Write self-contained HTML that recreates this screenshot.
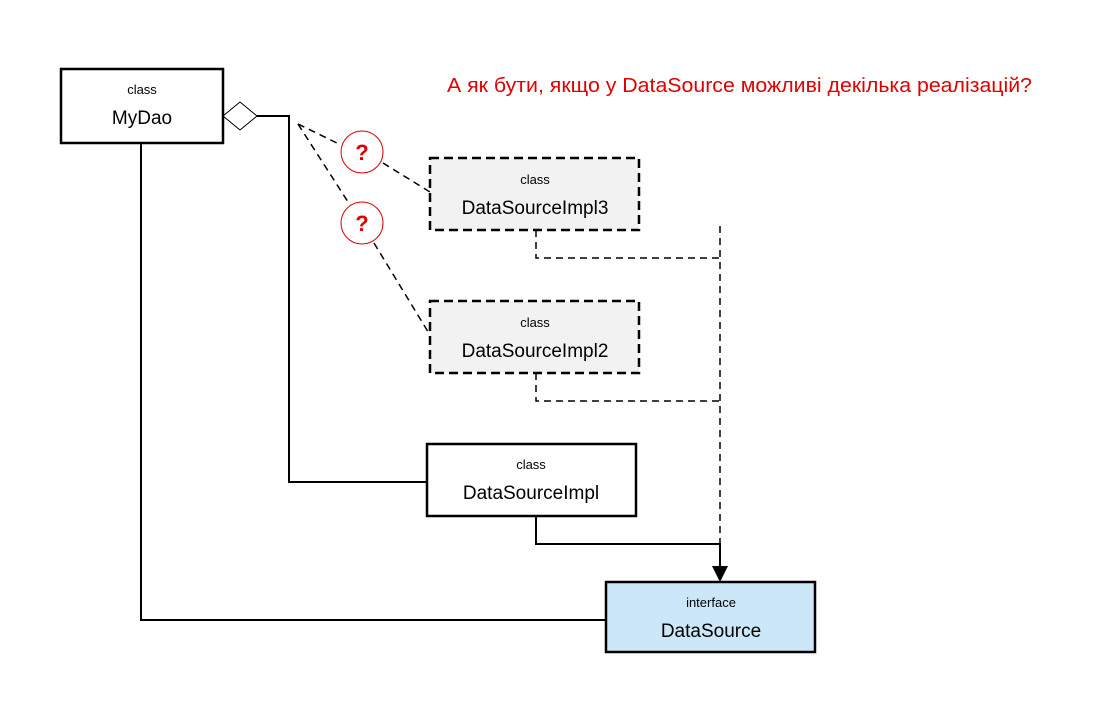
<!DOCTYPE html>
<html><head><meta charset="utf-8"><style>body{margin:0;background:#fff}svg{display:block}text{font-family:"Liberation Sans",sans-serif}</style></head><body>
<svg width="1100" height="720" viewBox="0 0 1100 720" xmlns="http://www.w3.org/2000/svg">
<rect width="1100" height="720" fill="#fff"/>
<text x="447" y="92" font-size="20" fill="#e00000" textLength="585" lengthAdjust="spacingAndGlyphs">А як бути, якщо у DataSource можливі декілька реалізацій?</text>
<g stroke="#000" stroke-width="2" fill="none">
<path d="M141 143 V620 H606"/>
<path d="M257 116 H289 V482 H427"/>
<path d="M536 516 V544 H720 V566"/>
</g>
<path d="M712 566 L728 566 L720 582 Z" fill="#000"/>
<g stroke="#000" stroke-width="1.5" fill="none" stroke-dasharray="7,5">
<path d="M536 230 V258 H720"/>
<path d="M536 373 V401 H720"/>
<path d="M720 226 V544"/>
<path d="M298 124 L341 145 M383 163 L430 192"/>
<path d="M298 124 L350 205 M374 243 L430 335"/>
</g>
<path d="M223 116 L240 102 L257 116 L240 130 Z" fill="#fff" stroke="#000" stroke-width="1"/>
<g stroke="#d00" stroke-width="1" fill="#fff">
<circle cx="362" cy="152" r="21"/><circle cx="362" cy="223" r="21"/>
</g>
<g fill="#e00000" font-size="22" font-weight="bold" text-anchor="middle">
<text x="362" y="160">?</text><text x="362" y="231">?</text>
</g>
<rect x="61" y="69" width="162" height="74" fill="#fff" stroke="#000" stroke-width="2.5"/>
<rect x="430" y="158" width="209" height="72" fill="#f2f2f2" stroke="#000" stroke-width="2.5" stroke-dasharray="9,5"/>
<rect x="430" y="301" width="209" height="72" fill="#f2f2f2" stroke="#000" stroke-width="2.5" stroke-dasharray="9,5"/>
<rect x="427" y="444" width="209" height="72" fill="#fff" stroke="#000" stroke-width="2.5"/>
<rect x="606" y="582" width="209" height="70" fill="#cce8f8" stroke="#000" stroke-width="2.5"/>
<g text-anchor="middle" fill="#000">
<text x="142" y="94" font-size="13">class</text><text x="142" y="124" font-size="19">MyDao</text>
<text x="535" y="184" font-size="13">class</text><text x="535" y="214" font-size="19">DataSourceImpl3</text>
<text x="535" y="327" font-size="13">class</text><text x="535" y="357" font-size="19">DataSourceImpl2</text>
<text x="531" y="469" font-size="13">class</text><text x="531" y="499" font-size="19">DataSourceImpl</text>
<text x="711" y="607" font-size="13">interface</text><text x="711" y="637" font-size="19">DataSource</text>
</g>
</svg>
</body></html>
